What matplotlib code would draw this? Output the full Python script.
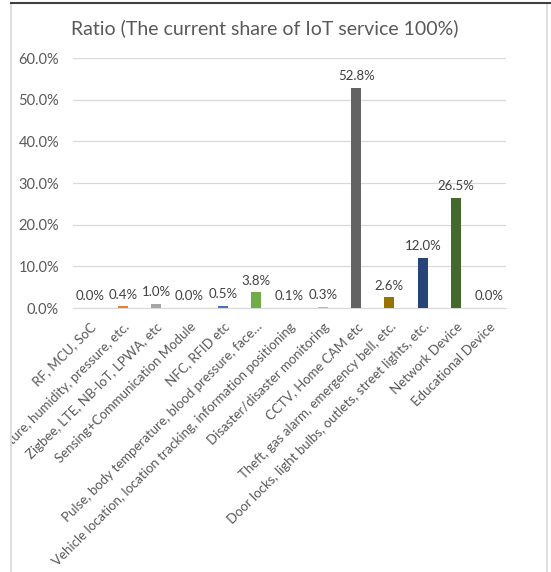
import matplotlib.pyplot as plt
from matplotlib.patches import Rectangle
from matplotlib.lines import Line2D
from matplotlib.ticker import FuncFormatter

plt.rcParams['font.family'] = ['Lato', 'DejaVu Sans']

categories = [
    'RF, MCU, SoC',
    'Temperature, humidity, pressure, etc.',
    'Zigbee, LTE, NB-IoT, LPWA, etc',
    'Sensing+Communication Module',
    'NFC, RFID etc',
    'Pulse, body temperature, blood pressure, face…',
    'Vehicle location, location tracking, information positioning',
    'Disaster/disaster monitoring',
    'CCTV, Home CAM etc',
    'Theft, gas alarm, emergency bell, etc.',
    'Door locks, light bulbs, outlets, street lights, etc.',
    'Network Device',
    'Educational Device',
]
ratio = [0.0, 0.4, 1.0, 0.0, 0.5, 3.8, 0.1, 0.3, 52.8, 2.6, 12.0, 26.5, 0.0]
colors = ['#4472C4', '#ED7D31', '#A5A5A5', '#FFC000', '#4472C4', '#70AD47',
          '#264478', '#E2AE90', '#636363', '#997300', '#264478', '#43682B', '#698ED0']

fig = plt.figure(figsize=(5.51, 5.72), dpi=100)
ax = fig.add_axes([0.1325, 0.4615, 0.786, 0.437])

x = range(len(categories))
bars = ax.bar(x, ratio, width=0.3, color=colors, zorder=3)
for xi, v in zip(x, ratio):
    ax.annotate(f'{v:.1f}%', (xi, v), xytext=(0, 4), textcoords='offset points',
                ha='center', va='bottom', fontsize=9.5, color='#404040')

ax.set_xlim(-0.5, len(categories) - 0.5)
ax.set_ylim(0, 60)
ax.set_yticks(range(0, 61, 10))
ax.yaxis.set_major_formatter(FuncFormatter(lambda v, p: f'{v:.1f}%'))
ax.grid(axis='y', color='#D9D9D9', linewidth=0.9, zorder=0)
for s in ['top', 'right', 'left']:
    ax.spines[s].set_visible(False)
ax.spines['bottom'].set_color('#D9D9D9')
ax.tick_params(axis='both', length=0, colors='#595959')
ax.tick_params(axis='y', labelsize=10.5, pad=10)
ax.set_xticks(list(x))
ax.set_xticklabels(categories, rotation=45, ha='right', va='top',
                   rotation_mode='anchor', fontsize=9.5, color='#595959')
ax.tick_params(axis='x', pad=9)

fig.text(0.481, 0.951, 'Ratio (The current share of IoT service 100%)',
         ha='center', va='center', fontsize=14, color='#595959')

# chart frame, left part cut off like the screenshot
fig.add_artist(Rectangle((0, 0), 11 / 551, 1, transform=fig.transFigure,
                         facecolor='white', edgecolor='none', zorder=10))
fig.add_artist(Line2D([11 / 551, 11 / 551], [0, 1 - 3 / 572], transform=fig.transFigure,
                      color='#D9D9D9', linewidth=1.2, zorder=11))
fig.add_artist(Line2D([547 / 551, 547 / 551], [0, 1 - 3 / 572], transform=fig.transFigure,
                      color='#D9D9D9', linewidth=1.2, zorder=11))
fig.add_artist(Line2D([11 / 551, 1], [1 - 3 / 572, 1 - 3 / 572], transform=fig.transFigure,
                      color='#404040', linewidth=1.5, zorder=11))

fig.savefig('out.png', dpi=100)
